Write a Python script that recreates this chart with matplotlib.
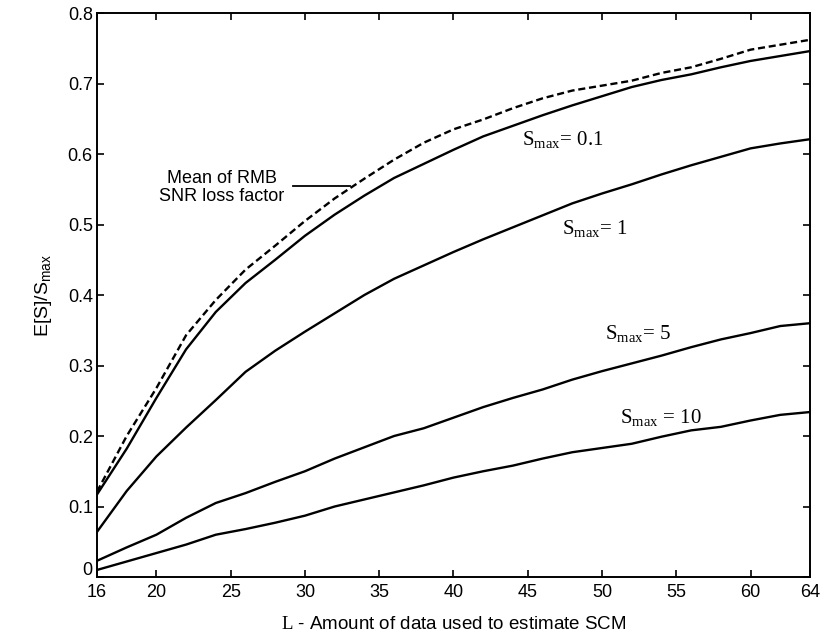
import matplotlib
matplotlib.use("Agg")
import matplotlib.pyplot as plt
import matplotlib.transforms as mtransforms

plt.rcParams["mathtext.fontset"] = "custom"
plt.rcParams["mathtext.rm"] = "Liberation Serif"
plt.rcParams["mathtext.sf"] = "Liberation Sans"

L = [16, 18, 20, 22, 24, 26, 28, 30, 32, 34, 36, 38, 40, 42, 44, 46, 48, 50, 52, 54, 56, 58, 60, 62, 64]

mean_rmb = [0.121, 0.200, 0.268, 0.343, 0.393, 0.436, 0.470, 0.505, 0.537, 0.565, 0.592, 0.616, 0.635,
            0.649, 0.665, 0.679, 0.690, 0.697, 0.704, 0.715, 0.723, 0.735, 0.748, 0.755, 0.762]
smax_01 = [0.117, 0.182, 0.254, 0.323, 0.376, 0.417, 0.450, 0.484, 0.514, 0.541, 0.566, 0.586, 0.606,
           0.625, 0.640, 0.655, 0.669, 0.682, 0.695, 0.705, 0.713, 0.723, 0.732, 0.739, 0.746]
smax_1 = [0.064, 0.122, 0.171, 0.212, 0.251, 0.291, 0.321, 0.348, 0.374, 0.400, 0.423, 0.442, 0.461,
          0.479, 0.496, 0.513, 0.530, 0.544, 0.557, 0.571, 0.584, 0.596, 0.608, 0.615, 0.621]
smax_5 = [0.023, 0.042, 0.060, 0.084, 0.105, 0.119, 0.135, 0.150, 0.168, 0.184, 0.200, 0.211, 0.226,
          0.241, 0.254, 0.266, 0.280, 0.292, 0.303, 0.314, 0.326, 0.337, 0.346, 0.356, 0.360]
smax_10 = [0.010, 0.022, 0.034, 0.046, 0.060, 0.068, 0.077, 0.087, 0.100, 0.110, 0.120, 0.130, 0.141,
           0.150, 0.158, 0.168, 0.177, 0.183, 0.189, 0.199, 0.208, 0.213, 0.222, 0.230, 0.234]

x_ticks = [16, 20, 25, 30, 35, 40, 45, 50, 55, 60, 64]
y_ticks = [0, 0.1, 0.2, 0.3, 0.4, 0.5, 0.6, 0.7, 0.8]
y_tick_labels = ["0", "0.1", "0.2", "0.3", "0.4", "0.5", "0.6", "0.7", "0.8"]

serif = ["Liberation Serif", "DejaVu Serif"]
sans = ["Liberation Sans", "DejaVu Sans"]

fig = plt.figure(figsize=(8.24, 6.38), dpi=100)
ax = fig.add_axes([0.1177, 0.0956, 0.983 - 0.1177, 0.9796 - 0.0956])

lw = 1.7
ax.plot(L, smax_01, color="black", lw=lw)
ax.plot(L, smax_1, color="black", lw=lw)
ax.plot(L, smax_5, color="black", lw=lw)
ax.plot(L, smax_10, color="black", lw=lw)
ax.plot(L, mean_rmb, color="black", lw=lw, linestyle=(0, (3.0, 1.6)))

ax.set_xlim(16, 64)
ax.set_ylim(0, 0.8)
ax.set_xticks(x_ticks)
ax.set_xticklabels([str(t) for t in x_ticks])
ax.set_yticks(y_ticks)
ax.set_yticklabels(y_tick_labels)
ax.tick_params(direction="in", length=5, width=1.2, top=True, right=True, labelsize=13)
ax.tick_params(axis="x", pad=5)
ax.tick_params(axis="y", pad=3)
for lab in ax.get_xticklabels() + ax.get_yticklabels():
    lab.set_fontfamily(sans)
# nudge the "0" label up a little, as in the reference, so it clears "16"
zero_lab = ax.get_yticklabels()[0]
zero_lab.set_transform(zero_lab.get_transform() +
                       mtransforms.ScaledTranslation(0, 6 / 72, fig.dpi_scale_trans))
for s in ax.spines.values():
    s.set_linewidth(1.4)

ax.set_xlabel(r"$\mathrm{L}$ - Amount of data used to estimate SCM", fontsize=13.5, family=sans, labelpad=11)
ax.set_ylabel(r"E[S]/S$_\mathsf{max}$", fontsize=14, family=sans, labelpad=10)

ax.text(24.4, 0.5525, "Mean of RMB\nSNR loss factor", ha="center", va="center",
        fontsize=13, family=sans, linespacing=1.1)
ax.plot([29.2, 33.0], [0.555, 0.555], color="black", lw=1.3)

tk = dict(fontsize=15, family=serif, ha="left", va="center")
ax.text(44.6, 0.620, r"$\mathrm{S}_{\mathrm{max}}$= 0.1", **tk)
ax.text(47.3, 0.494, r"$\mathrm{S}_{\mathrm{max}}$= 1", **tk)
ax.text(50.2, 0.345, r"$\mathrm{S}_{\mathrm{max}}$= 5", **tk)
ax.text(51.2, 0.225, r"$\mathrm{S}_{\mathrm{max}}$ = 10", **tk)

fig.savefig("out.png", dpi=100)
